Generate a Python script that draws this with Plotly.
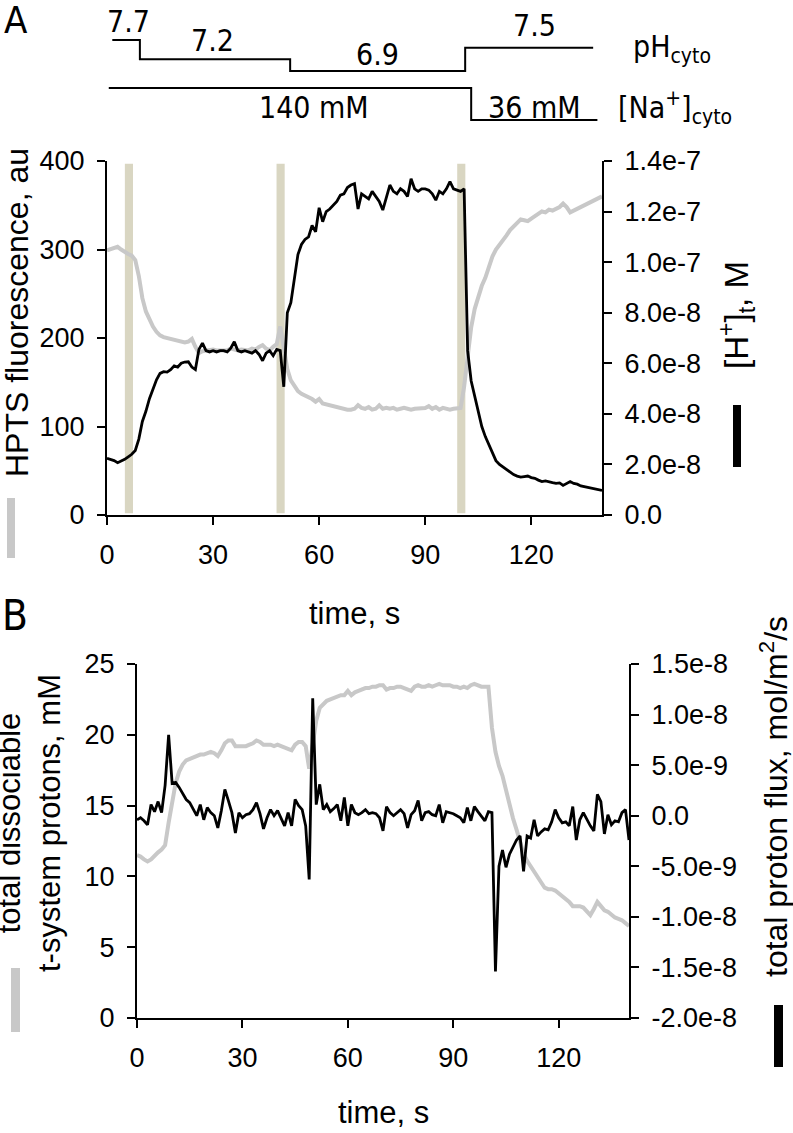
import plotly.graph_objects as go

W, H = 793, 1133

# ---------------- data ----------------
time_s = list(range(0, 141))

# Panel A: HPTS fluorescence (au), grey trace
hpts_au = [299, 300, 301, 303, 300, 297, 295, 293, 288, 270, 245, 230, 220, 213, 207, 203, 201, 200, 198, 198,
           196, 195, 195, 196, 199, 190, 183, 185, 186, 186, 187, 186, 186, 187, 186, 188, 187, 186, 187, 187,
           186, 188, 187, 190, 192, 188, 186, 190, 193, 213, 185, 165, 152, 145, 140, 137, 135, 134, 131, 128,
           131, 126, 125, 124, 122, 121, 120, 119, 119, 119, 120, 124, 121, 120, 122, 119, 120, 124, 120, 121,
           120, 121, 119, 120, 121, 120, 119, 120, 120, 120, 121, 123, 120, 122, 119, 121, 120, 119, 120, 121,
           121, 145, 180, 212, 233, 247, 259, 268, 280, 292, 300, 305, 310, 316, 322, 326, 330, 334, 333, 332,
           335, 338, 341, 343, 342, 345, 344, 346, 348, 352, 348, 342, 344, 347, 349, 350, 352, 355, 357, 358,
           360]

# Panel A: [H+]t (units of 1e-8 M), black trace
h_t_e8 = [2.24, 2.2, 2.15, 2.07, 2.12, 2.2, 2.3, 2.4, 2.55, 3.0, 3.7, 4.1, 4.6, 5.0, 5.35, 5.6, 5.67, 5.65, 5.75, 5.9,
          5.85, 6.0, 6.05, 6.06, 5.85, 5.75, 6.55, 6.8, 6.5, 6.45, 6.5, 6.45, 6.5, 6.5, 6.45, 6.6, 6.85, 6.5, 6.45, 6.5,
          6.45, 6.4, 6.5, 6.35, 6.1, 6.4, 6.5, 6.3, 6.55, 6.5, 5.07, 8.0, 8.4, 9.3, 10.3, 10.7, 10.9, 11.0, 11.45, 11.2,
          12.15, 11.6, 12.0, 12.1, 12.25, 12.4, 12.65, 12.7, 12.95, 13.05, 13.1, 12.1, 12.7, 12.6, 12.5, 12.8, 12.6, 12.4, 12.06, 12.6,
          13.05, 12.8, 12.7, 12.9, 12.8, 12.6, 13.3, 12.9, 12.8, 12.9, 12.9, 12.85, 12.7, 12.45, 12.8, 12.7, 12.9, 13.18, 12.9, 12.85,
          12.8, 12.9, 6.5, 5.3, 4.7, 4.2, 3.5, 3.1, 2.8, 2.45, 2.15, 2.0, 1.9, 1.78, 1.7, 1.6, 1.54, 1.5, 1.52, 1.54,
          1.48, 1.45, 1.38, 1.32, 1.35, 1.3, 1.28, 1.25, 1.27, 1.17, 1.25, 1.32, 1.25, 1.22, 1.15, 1.12, 1.1, 1.05, 1.02, 0.99,
          0.97]

# Panel B: total dissociable t-system protons (mM), grey trace
protons_mM = [11.5, 11.4, 11.2, 11.05, 11.2, 11.5, 11.7, 11.9, 12.2, 13.8, 15.4, 16.6, 17.4, 17.9, 18.2, 18.3, 18.4, 18.45, 18.6, 18.6,
              18.7, 18.8, 18.7, 18.5, 18.9, 19.4, 19.6, 19.6, 19.2, 19.2, 19.2, 19.2, 19.3, 19.4, 19.6, 19.5, 19.3, 19.3, 19.3, 19.2,
              19.3, 19.2, 19.1, 19.0, 18.9, 19.3, 19.5, 19.5, 19.2, 17.6, 19.5, 21.0, 21.9, 22.2, 22.4, 22.5, 22.6, 22.7, 22.8, 22.8,
              23.1, 22.8, 23.0, 23.1, 23.2, 23.3, 23.3, 23.4, 23.4, 23.5, 23.5, 23.2, 23.3, 23.3, 23.4, 23.4, 23.3, 23.2, 23.1, 23.4,
              23.5, 23.4, 23.4, 23.5, 23.4, 23.5, 23.6, 23.5, 23.5, 23.5, 23.4, 23.4, 23.3, 23.4, 23.3, 23.5, 23.6, 23.5, 23.4, 23.4,
              23.4, 20.5, 18.8, 17.8, 17.1, 16.1, 15.0, 14.1, 13.3, 12.5, 11.6, 11.1, 10.7, 10.3, 10.0, 9.6, 9.2, 9.1, 9.1, 9.0,
              8.8, 8.6, 8.45, 8.2, 7.9, 7.9, 7.9, 7.8, 7.5, 7.27, 7.7, 8.2, 7.9, 7.6, 7.5, 7.3, 7.1, 7.0, 6.9, 6.7,
              6.5]

# Panel B: total proton flux (units of 1e-9 mol/m2/s), black trace
flux_e9 = [-0.4, -0.2, -0.5, -0.9, 1.1, 0.4, 1.4, 0.3, 3.0, 8.0, 3.2, 3.3, 2.8, 2.2, 1.6, 1.3, 0.6, 0.0, 1.1, -0.4,
           0.8, 0.3, 0.0, -1.2, 0.5, 2.6, 1.5, 0.3, -1.7, 0.3, -0.2, 0.1, 0.2, 0.6, 1.3, 0.2, -1.3, -0.2, 0.6, 0.0,
           0.5, -0.3, -1.0, 0.3, -1.0, 1.6, 1.0, 0.6, -1.0, -6.3, 11.6, 1.1, 3.1, 0.6, 1.1, 0.4, 0.7, 1.1, -0.5, 1.8,
           -1.0, 1.1, 0.3, 0.1, 0.3, 0.6, 0.2, 0.3, 0.2, -0.2, -1.5, 0.9, 0.3, 0.0, 0.3, 0.6, 0.2, -1.2, 0.1, 0.5,
           1.5, -0.5, 0.3, 0.4, 0.1, 0.0, 1.1, -0.7, 0.4, 0.3, 0.2, 0.0, -0.2, -0.7, 0.8, -0.5, 0.9, 0.4, -0.1, -0.5,
           0.4, 0.3, -15.4, -5.0, -3.4, -5.1, -3.8, -3.1, -2.4, -2.0, -5.5, -2.0, -2.2, -0.4, -2.0, -1.6, -1.3, -1.4, -0.6, 0.6,
           -0.2, -0.7, -0.6, -1.0, 0.9, -2.4, -0.4, 0.3, -0.4, -1.0, -1.5, 2.1, 1.4, -1.8, 0.1, -0.9, -0.5, -0.6, 0.3, 0.6,
           -2.4]

# solution-change events (s)
event_times = [6.2, 49.1, 100.2]
event_width_s = 2.3

# protocol schematic
ph_times = [1.5, 9.3, 51.8, 101.3, 137.5]
ph_values = [7.7, 7.2, 6.9, 7.5, 7.5]
ph_labels = ["7.7", "7.2", "6.9", "7.5"]
ph_label_times = [6.0, 29.7, 76.4, 120.9]
na_times = [0.5, 103.0, 138.7]
na_values = [140, 36, 36]
na_labels = ["140 mM", "36 mM"]
na_label_times = [58.6, 120.9]

x_ticks = [0, 30, 60, 90, 120]
hpts_ticks = [0, 100, 200, 300, 400]
h_ticks = [0, 2e-8, 4e-8, 6e-8, 8e-8, 1.0e-7, 1.2e-7, 1.4e-7]
h_ticktext = ["0.0", "2.0e-8", "4.0e-8", "6.0e-8", "8.0e-8", "1.0e-7", "1.2e-7", "1.4e-7"]
prot_ticks = [0, 5, 10, 15, 20, 25]
flux_ticks = [-2.0e-8, -1.5e-8, -1.0e-8, -5e-9, 0, 5e-9, 1.0e-8, 1.5e-8]
flux_ticktext = ["-2.0e-8", "-1.5e-8", "-1.0e-8", "-5.0e-9", "0.0", "5.0e-9", "1.0e-8", "1.5e-8"]

# ---------------- helpers ----------------
def px(x):
    return x / W

def py(y):
    return 1 - y / H

FONT = "Liberation Sans, Arial, sans-serif"
SCHEM_FONT = "DejaVu Sans Condensed, Liberation Sans Narrow, Roboto Condensed, Liberation Sans"
GREY = "#c8c8c8"
TAN = "#d9d6c2"

h_t = [v * 1e-8 for v in h_t_e8]
flux = [v * 1e-9 for v in flux_e9]

fig = go.Figure()

# Panel A
fig.add_trace(go.Scatter(x=time_s, y=h_t, mode="lines", line=dict(color="black", width=2.8),
                         xaxis="x", yaxis="y2", hoverinfo="skip"))
fig.add_trace(go.Scatter(x=time_s, y=hpts_au, mode="lines", line=dict(color=GREY, width=4),
                         xaxis="x", yaxis="y", hoverinfo="skip"))
# Panel B
fig.add_trace(go.Scatter(x=time_s, y=protons_mM, mode="lines", line=dict(color=GREY, width=4),
                         xaxis="x2", yaxis="y3", hoverinfo="skip"))
fig.add_trace(go.Scatter(x=time_s, y=flux, mode="lines", line=dict(color="black", width=2.8),
                         xaxis="x2", yaxis="y4", hoverinfo="skip"))
# schematic
fig.add_trace(go.Scatter(x=ph_times, y=ph_values, mode="lines", line=dict(color="black", width=2, shape="hv"),
                         xaxis="x3", yaxis="y5", hoverinfo="skip"))
fig.add_trace(go.Scatter(x=na_times, y=na_values, mode="lines", line=dict(color="black", width=2, shape="hv"),
                         xaxis="x3", yaxis="y6", hoverinfo="skip"))

axis_common = dict(showline=True, linecolor="black", linewidth=2, ticks="outside", ticklen=8, tickwidth=2,
                   tickcolor="black", showgrid=False, zeroline=False, automargin=False, ticklabelstandoff=7,
                   tickfont=dict(family=FONT, size=27, color="black"))

fig.update_layout(
    template="none",
    width=W, height=H, margin=dict(l=0, r=0, t=0, b=0, pad=0, autoexpand=False),
    paper_bgcolor="white", plot_bgcolor="white", showlegend=False,
    font=dict(family=FONT, color="black"),
    xaxis=dict(domain=[px(107), px(602)], range=[0, 140], anchor="y", tickvals=x_ticks, **axis_common),
    yaxis=dict(domain=[py(515), py(161)], range=[0, 400], anchor="x", tickvals=hpts_ticks, **axis_common),
    yaxis2=dict(domain=[py(515), py(161)], range=[0, 1.4e-7], anchor="x", overlaying="y", side="right",
                tickvals=h_ticks, ticktext=h_ticktext, **axis_common),
    xaxis2=dict(domain=[px(137), px(629)], range=[0, 140], anchor="y3", tickvals=x_ticks, **axis_common),
    yaxis3=dict(domain=[py(1018), py(664)], range=[0, 25], anchor="x2", tickvals=prot_ticks, **axis_common),
    yaxis4=dict(domain=[py(1018), py(664)], range=[-2.0e-8, 1.5e-8], anchor="x2", overlaying="y3", side="right",
                tickvals=flux_ticks, ticktext=flux_ticktext, **axis_common),
    xaxis3=dict(domain=[px(107), px(602)], range=[0, 140], anchor="y5", visible=False, automargin=False),
    yaxis5=dict(domain=[py(125), py(30)], range=[5.506, 7.958], anchor="x3", visible=False, automargin=False),
    yaxis6=dict(domain=[py(125), py(30)], range=[19.75, 328.5], anchor="x3", overlaying="y5", visible=False,
                automargin=False),
)

shapes = []
for et in event_times:
    shapes.append(dict(type="rect", xref="x", yref="y", x0=et - event_width_s / 2, x1=et + event_width_s / 2,
                       y0=2, y1=397, fillcolor=TAN, line=dict(width=0), layer="below"))
# series key bars
shapes.append(dict(type="rect", xref="paper", yref="paper", x0=px(7), x1=px(15), y0=py(558), y1=py(498),
                   fillcolor=GREY, line=dict(width=0)))
shapes.append(dict(type="rect", xref="paper", yref="paper", x0=px(733), x1=px(741), y0=py(467), y1=py(405),
                   fillcolor="black", line=dict(width=0)))
shapes.append(dict(type="rect", xref="paper", yref="paper", x0=px(11), x1=px(20), y0=py(1032), y1=py(968),
                   fillcolor=GREY, line=dict(width=0)))
shapes.append(dict(type="rect", xref="paper", yref="paper", x0=px(774), x1=px(783), y0=py(1067), y1=py(1005),
                   fillcolor="black", line=dict(width=0)))
fig.update_layout(shapes=shapes)

ann = []
def text(x, y, s, size=31, angle=0, xanchor="center", yanchor="middle", family=FONT, align="center"):
    ann.append(dict(x=px(x), y=py(y), xref="paper", yref="paper", text=s, showarrow=False, textangle=angle,
                    xanchor=xanchor, yanchor=yanchor, align=align, borderpad=0,
                    font=dict(family=family, size=size, color="black")))

# panel letters
text(3, 20, "A", size=38, xanchor="left", family=SCHEM_FONT)
text(1, 615, "B", size=42, xanchor="left", family=SCHEM_FONT)
# axis titles
text(354, 613, "time, s")
text(383, 1112, "time, s")
text(17, 313, "HPTS fluorescence, au", size=32, angle=-90)
text(737, 315, "[H<sup>+</sup>]<sub>t</sub>, M", size=33, angle=-90)
text(774, 797, "total proton flux, mol/m<sup>2</sup>/s", size=32, angle=-90)
text(29, 823, "total dissociable<br>t-system protons, mM", size=31, angle=-90)

# schematic labels
ph_label_y = [22, 40, 55, 26]
for lab, t, yy in zip(ph_labels, ph_label_times, ph_label_y):
    ann.append(dict(x=t, y=py(yy), xref="x3", yref="paper", text=lab, showarrow=False,
                    xanchor="center", yanchor="middle",
                    font=dict(family=SCHEM_FONT, size=30, color="black")))
for lab, t in zip(na_labels, na_label_times):
    ann.append(dict(x=t, y=py(108), xref="x3", yref="paper", text=lab, showarrow=False,
                    xanchor="center", yanchor="middle",
                    font=dict(family=SCHEM_FONT, size=30, color="black")))
text(632, 48, "pH<sub>cyto</sub>", size=30, xanchor="left", family=SCHEM_FONT)
text(617, 108, "[Na<sup>+</sup>]<sub>cyto</sub>", size=30, xanchor="left", family=SCHEM_FONT)

fig.update_layout(annotations=ann)
fig.write_html("out.html", config={"displayModeBar": False},
               post_script="document.body.style.margin='0px';document.body.style.padding='0px';")
